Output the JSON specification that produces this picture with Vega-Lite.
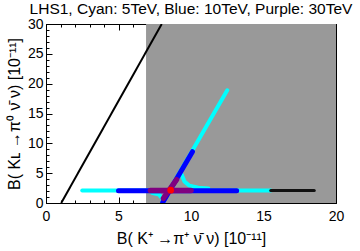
{
  "$schema": "https://vega.github.io/schema/vega-lite/v6.json",
  "width": 290,
  "height": 179,
  "autosize": {"type": "none"},
  "padding": {"left": 46, "top": 24, "right": 24, "bottom": 48},
  "background": "white",
  "config": {
    "view": {"stroke": "black", "strokeWidth": 1},
    "font": "Liberation Sans",
    "axis": {
      "grid": false,
      "domainColor": "black",
      "tickColor": "black",
      "labelColor": "black",
      "labelFontSize": 14,
      "labelFont": "Liberation Sans",
      "titleFont": "Liberation Sans",
      "titleFontSize": 16,
      "titleFontWeight": "normal",
      "titleColor": "black",
      "labelOverlap": false,
      "labelFlush": false
    }
  },
  "title": {
    "text": "LHS1, Cyan: 5TeV, Blue: 10TeV, Purple: 30TeV",
    "fontSize": 15.5,
    "fontWeight": "normal",
    "font": "Liberation Sans",
    "anchor": "middle",
    "offset": 0,
    "color": "black"
  },
  "datasets": {
    "region": [{"x1": 6.9, "x2": 20, "y1": 0, "y2": 30}],
    "bound": [{"x": 1.05, "y": 0}, {"x": 7.98, "y": 30}],
    "cyan": [
      {"seg": "h", "i": 0, "x": 2.5, "y": 2.1},
      {"seg": "h", "i": 1, "x": 15.5, "y": 2.1},
      {"seg": "d", "i": 0, "x": 8.05, "y": 0.2},
      {"seg": "d", "i": 1, "x": 12.5, "y": 18.9},
      {"seg": "w", "i": 0, "x": 9.35, "y": 4.8},
      {"seg": "w", "i": 1, "x": 9.55, "y": 3.6},
      {"seg": "w", "i": 2, "x": 9.9, "y": 2.9},
      {"seg": "w", "i": 3, "x": 10.5, "y": 2.55},
      {"seg": "w", "i": 4, "x": 11.2, "y": 2.45},
      {"seg": "k", "i": 0, "x": 7.3, "y": 1.7},
      {"seg": "k", "i": 1, "x": 7.8, "y": 1.4},
      {"seg": "k", "i": 2, "x": 8.0, "y": 0.8},
      {"seg": "k", "i": 3, "x": 8.1, "y": 0.2}
    ],
    "blue": [
      {"seg": "h", "i": 0, "x": 5.0, "y": 2.05},
      {"seg": "h", "i": 1, "x": 13.15, "y": 2.05},
      {"seg": "d", "i": 0, "x": 8.05, "y": 0.1},
      {"seg": "d", "i": 1, "x": 10.1, "y": 8.6}
    ],
    "purple": [
      {"seg": "h", "i": 0, "x": 7.2, "y": 2.1},
      {"seg": "h", "i": 1, "x": 10.0, "y": 2.1},
      {"seg": "d", "i": 0, "x": 8.1, "y": 0.8},
      {"seg": "d", "i": 1, "x": 9.0, "y": 3.9}
    ],
    "dark": [
      {"x": 15.5, "y": 2.1},
      {"x": 18.5, "y": 2.1}
    ],
    "best": [{"x": 8.6, "y": 2.15}]
  },
  "layer": [
    {
      "data": {"name": "region"},
      "mark": {"type": "rect", "color": "#999999"},
      "encoding": {
        "x": {
          "field": "x1", "type": "quantitative",
          "scale": {"domain": [0, 20], "nice": false, "zero": false},
          "axis": {
            "orient": "bottom",
            "values": [0,1,2,3,4,5,6,7,8,9,10,11,12,13,14,15,16,17,18,19,20],
            "tickSize": {"condition": {"test": "datum.value % 5 === 0", "value": -6}, "value": -3},
            "labelExpr": "datum.value % 5 === 0 ? datum.label : ''",
            "labelPadding": 12,
            "title": "B( K⁺ →π⁺  ν̄  ν)  [10⁻¹¹]",
            "titlePadding": 4
          }
        },
        "x2": {"field": "x2"},
        "y": {
          "field": "y1", "type": "quantitative",
          "scale": {"domain": [0, 30], "nice": false, "zero": false},
          "axis": {
            "orient": "left",
            "values": [0,1,2,3,4,5,6,7,8,9,10,11,12,13,14,15,16,17,18,19,20,21,22,23,24,25,26,27,28,29,30],
            "tickSize": {"condition": {"test": "datum.value % 5 === 0", "value": -6}, "value": -3},
            "labelExpr": "datum.value % 5 === 0 ? datum.label : ''",
            "labelPadding": 9,
            "title": "B( Kʟ →π⁰  ν̄  ν)  [10⁻¹¹]",
            "titlePadding": 5
          }
        },
        "y2": {"field": "y2"}
      }
    },
    {
      "data": {"name": "bound"},
      "mark": {"type": "line", "color": "black", "strokeWidth": 2, "clip": true},
      "encoding": {
        "x": {
          "field": "x", "type": "quantitative",
          "scale": {"domain": [0, 20], "nice": false, "zero": false},
          "axis": {
            "orient": "top",
            "values": [0,1,2,3,4,5,6,7,8,9,10,11,12,13,14,15,16,17,18,19,20],
            "tickSize": {"condition": {"test": "datum.value % 5 === 0", "value": -6}, "value": -3},
            "labels": false,
            "title": null
          }
        },
        "y": {
          "field": "y", "type": "quantitative",
          "scale": {"domain": [0, 30], "nice": false, "zero": false},
          "axis": {
            "orient": "right",
            "values": [0,1,2,3,4,5,6,7,8,9,10,11,12,13,14,15,16,17,18,19,20,21,22,23,24,25,26,27,28,29,30],
            "tickSize": {"condition": {"test": "datum.value % 5 === 0", "value": -6}, "value": -3},
            "labels": false,
            "title": null
          }
        }
      }
    },
    {
      "data": {"name": "cyan"},
      "mark": {"type": "line", "color": "#00FFFF", "strokeWidth": 4, "strokeCap": "round", "clip": true},
      "encoding": {
        "x": {"field": "x", "type": "quantitative", "axis": null},
        "y": {"field": "y", "type": "quantitative", "axis": null},
        "detail": {"field": "seg"},
        "order": {"field": "i"}
      }
    },
    {
      "data": {"name": "dark"},
      "mark": {"type": "line", "color": "#111111", "strokeWidth": 3, "strokeCap": "round", "clip": true},
      "encoding": {
        "x": {"field": "x", "type": "quantitative", "axis": null},
        "y": {"field": "y", "type": "quantitative", "axis": null}
      }
    },
    {
      "data": {"name": "blue"},
      "mark": {"type": "line", "color": "#0000FF", "strokeWidth": 5, "strokeCap": "round", "clip": true},
      "encoding": {
        "x": {"field": "x", "type": "quantitative", "axis": null},
        "y": {"field": "y", "type": "quantitative", "axis": null},
        "detail": {"field": "seg"},
        "order": {"field": "i"}
      }
    },
    {
      "data": {"name": "purple"},
      "mark": {"type": "line", "color": "#800080", "strokeWidth": 5.5, "strokeCap": "round", "clip": true},
      "encoding": {
        "x": {"field": "x", "type": "quantitative", "axis": null},
        "y": {"field": "y", "type": "quantitative", "axis": null},
        "detail": {"field": "seg"},
        "order": {"field": "i"}
      }
    },
    {
      "data": {"name": "best"},
      "mark": {"type": "circle", "color": "#FF0000", "opacity": 1, "size": 45},
      "encoding": {
        "x": {"field": "x", "type": "quantitative", "axis": null},
        "y": {"field": "y", "type": "quantitative", "axis": null}
      }
    }
  ],
  "resolve": {"axis": {"x": "independent", "y": "independent"}}
}
